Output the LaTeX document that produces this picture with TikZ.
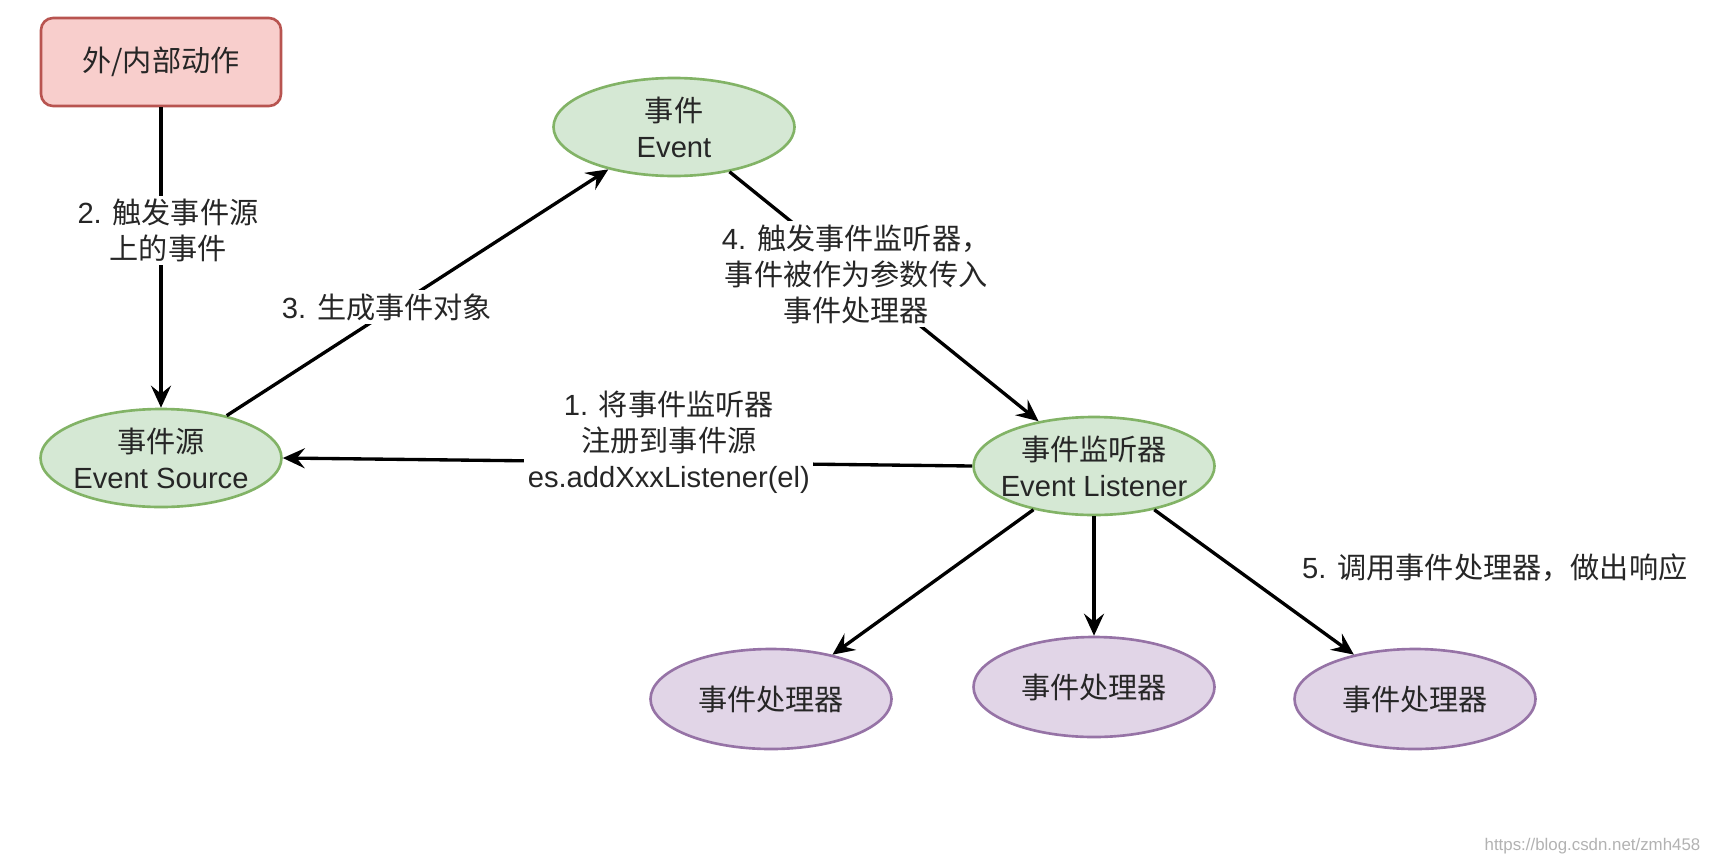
\documentclass[tikz,border=0pt]{standalone}
\usepackage{fontspec}
\setmainfont{Liberation Sans}
\newfontfamily\cjk{Noto Sans CJK SC}
\usetikzlibrary{arrows.meta,shapes.geometric}
\definecolor{actfill}{HTML}{F8CECC}
\definecolor{actline}{HTML}{B85450}
\definecolor{objfill}{HTML}{D5E8D4}
\definecolor{objline}{HTML}{82B366}
\definecolor{hdlfill}{HTML}{E1D5E7}
\definecolor{hdlline}{HTML}{9673A6}

\begin{document}
\begin{tikzpicture}[
  font=\fontsize{8.3}{10.2}\selectfont,
  act/.style={draw=actline, fill=actfill, line width=0.75pt, rounded corners=1.2mm, minimum width=2.40cm, minimum height=0.88cm, inner sep=0pt, text=black!85},
  obj/.style={ellipse, draw=objline, fill=objfill, line width=0.75pt, minimum width=2.41cm, minimum height=0.98cm, inner xsep=-4mm, inner ysep=-2mm, align=center, text=black!85},
  hdl/.style={obj, draw=hdlline, fill=hdlfill, minimum height=1.0cm},
  flow/.style={black, line width=0.95pt, -{Stealth[length=2.2mm, width=2mm, inset=0.8mm]}},
  lab/.style={fill=white, inner sep=1pt, align=center, text=black!85},
]
\useasboundingbox (0,0) rectangle (17.10,-8.66);
\node[act] (act) at (1.61,-0.62) {\cjk 外/内部动作};
\node[obj] (es) at (1.61,-4.58) {{\cjk 事件源}\\Event Source};
\node[obj] (ev) at (6.74,-1.27) {{\cjk 事件}\\Event};
\node[obj] (el) at (10.94,-4.66) {{\cjk 事件监听器}\\Event Listener};
\node[hdl] (h1) at (7.71,-6.99) {\cjk 事件处理器};
\node[hdl] (h2) at (10.94,-6.87) {\cjk 事件处理器};
\node[hdl] (h3) at (14.15,-6.99) {\cjk 事件处理器};
\draw[flow] (el.west) -- node[lab, pos=0.44, yshift=0.2cm] {1. {\cjk 将事件监听器}\\{\cjk 注册到事件源}\\es.addXxxListener(el)} (es.east);
\draw[flow] (act) -- node[lab, pos=0.41, xshift=0.07cm] {2. {\cjk 触发事件源}\\{\cjk 上的事件}} (es);
\draw[flow] (es) -- node[lab, pos=0.42, yshift=0.05cm] {3. {\cjk 生成事件对象}} (ev);
\draw[flow] (ev) -- node[lab, pos=0.41] {4. {\cjk 触发事件监听器，}\\{\cjk 事件被作为参数传入}\\{\cjk 事件处理器}} (el);
\draw[flow] (el) -- (h1);
\draw[flow] (el) -- (h2);
\draw[flow] (el) -- (h3);
\node[lab, anchor=west] (note5) at (12.98,-5.68) {5. {\cjk 调用事件处理器，做出响应}};
\node[anchor=east, text=black!30, font=\fontsize{4.8}{6}\selectfont, inner sep=0pt] (mark) at (17.01,-8.46) {https://blog.csdn.net/zmh458};
\end{tikzpicture}
\end{document}
